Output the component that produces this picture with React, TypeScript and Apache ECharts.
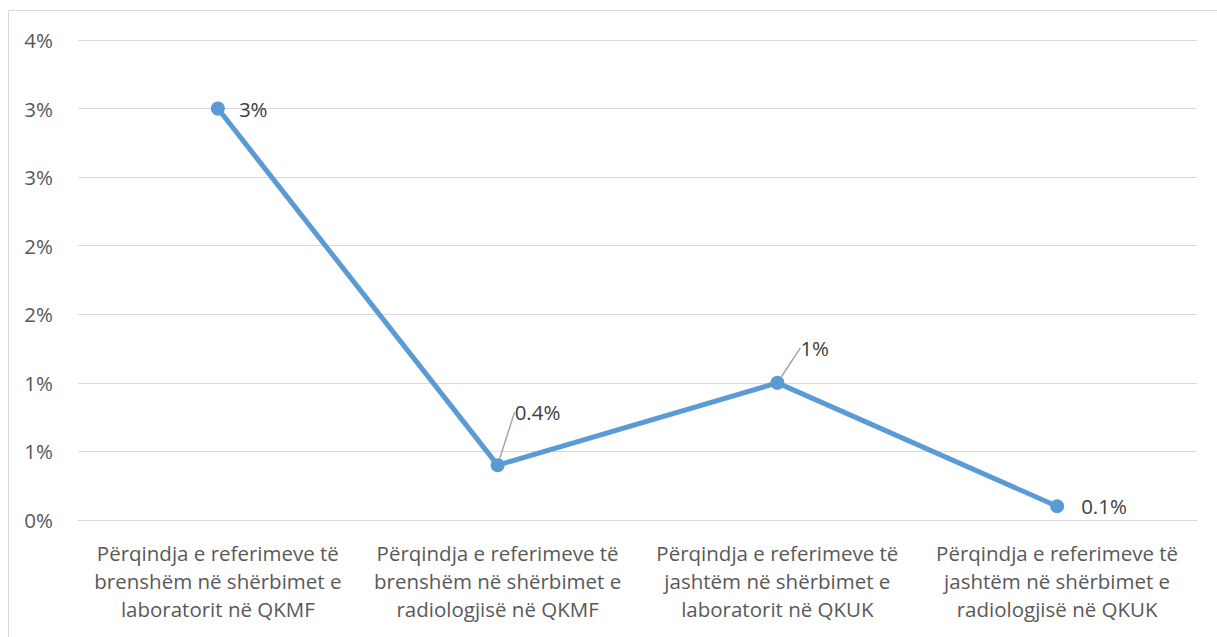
import React, { useEffect, useRef } from "react";
import * as echarts from "echarts";

const categories = [
  "Përqindja e referimeve të\nbrenshëm në shërbimet e\nlaboratorit në QKMF",
  "Përqindja e referimeve të\nbrenshëm në shërbimet e\nradiologjisë në QKMF",
  "Përqindja e referimeve të\njashtëm në shërbimet e\nlaboratorit në QKUK",
  "Përqindja e referimeve të\njashtëm në shërbimet e\nradiologjisë në QKUK",
];
const values = [3.0, 0.4, 1.0, 0.1];
const valueLabels = ["3%", "0.4%", "1%", "0.1%"];
const labelOffsets = [
  [0, 0],
  [-4, -53],
  [2, -35],
  [3, 0],
];
const showLeader = [false, true, true, false];

export default function App() {
  const ref = useRef<HTMLDivElement>(null);
  useEffect(() => {
    document.body.style.margin = "0";
    const chart = echarts.init(ref.current!, null, { renderer: "svg" });
    const font = "'Open Sans', 'Noto Sans', sans-serif";
    chart.setOption({
      animation: false,
      backgroundColor: "#fff",
      textStyle: { fontFamily: font },
      graphic: [
        {
          type: "rect",
          shape: { x: 8.5, y: 10.5, width: 1230, height: 650 },
          style: { fill: "none", stroke: "#d9d9d9", lineWidth: 1 },
          silent: true,
        },
      ],
      grid: { left: 78, right: 20, top: 40, bottom: 117 },
      xAxis: {
        type: "category",
        data: categories,
        axisLine: { show: true, lineStyle: { color: "#d9d9d9", width: 1 } },
        axisTick: { show: false },
        axisLabel: {
          interval: 0,
          color: "#595959",
          fontSize: 20.5,
          lineHeight: 28,
          margin: 19,
          fontFamily: font,
        },
      },
      yAxis: {
        type: "value",
        min: 0,
        max: 3.5,
        interval: 0.5,
        axisLine: { show: false },
        axisTick: { show: false },
        splitLine: { lineStyle: { color: "#d9d9d9", width: 1 } },
        axisLabel: {
          color: "#595959",
          fontSize: 20.5,
          margin: 25,
          fontFamily: font,
          formatter: (v: number) => Math.round(v + 1e-9) + "%",
        },
      },
      series: [
        {
          type: "line",
          data: values.map((v, i) => ({
            value: v,
            labelLine: { show: showLeader[i] },
          })),
          lineStyle: { color: "#5B9BD5", width: 5 },
          itemStyle: { color: "#5B9BD5" },
          symbol: "circle",
          symbolSize: 14,
          label: {
            show: true,
            position: "right",
            distance: 14,
            color: "#404040",
            fontSize: 20.5,
            fontFamily: font,
            formatter: (p: any) => valueLabels[p.dataIndex],
          },
          labelLine: { lineStyle: { color: "#a6a6a6", width: 1.5 } },
          labelLayout: (p: any) => ({
            dx: labelOffsets[p.dataIndex][0],
            dy: labelOffsets[p.dataIndex][1],
          }),
        },
      ],
    });
    return () => chart.dispose();
  }, []);
  return <div ref={ref} style={{ width: 1217, height: 637 }} />;
}
